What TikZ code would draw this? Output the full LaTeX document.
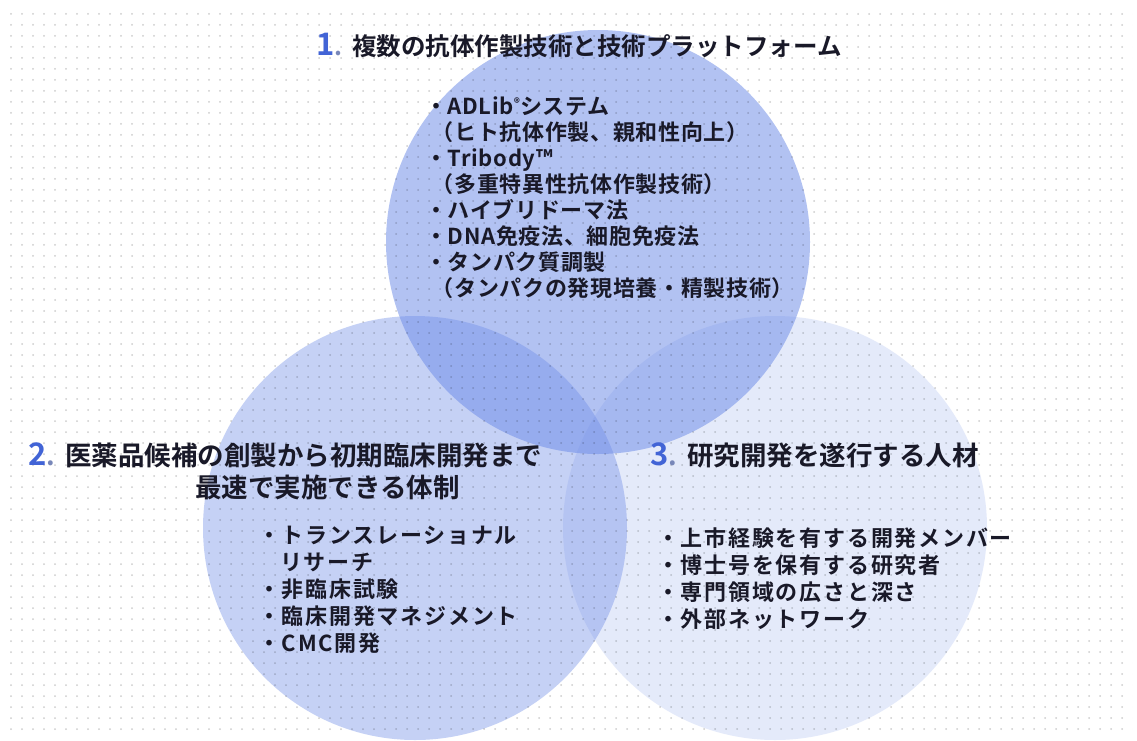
\documentclass[tikz,border=0pt]{standalone}
\usepackage{fontspec}
\setmainfont{Noto Sans CJK JP}[BoldFont={Noto Sans CJK JP Bold}]
\usepackage{tikz}
\usetikzlibrary{patterns.meta}

\definecolor{vennblue}{RGB}{110,140,232}
\definecolor{numblue}{RGB}{66,100,214}
\definecolor{dotblue}{RGB}{120,135,185}
\definecolor{inkblack}{RGB}{25,25,40}

\tikzset{
  heading/.style={anchor=west, inner sep=0pt, text=inkblack,
    font=\fontsize{26.5}{30}\selectfont\bfseries},
  itemlist/.style={anchor=north west, align=left, inner sep=0pt, text=inkblack,
    font=\fontsize{22}{27}\selectfont\bfseries\addfontfeature{LetterSpace=8}},
}
\newcommand{\vennnum}[1]{{\color{numblue}\fontsize{31}{32}\selectfont #1}{\color{dotblue}.}\hspace{10pt}}

\begin{document}
\begin{tikzpicture}[x=1pt,y=-1pt]
\useasboundingbox[fill=white] (0,0) rectangle (1137,740);
\coordinate (c1) at (598,242);
\coordinate (c2) at (415,528);
\coordinate (c3) at (775,528);
 \fill[color=vennblue, opacity=0.4]  (c2) circle (212);
 \fill[color=vennblue, opacity=0.18] (c3) circle (212);
 \fill[color=vennblue, opacity=0.53] (c1) circle (212);
 \fill[pattern={Dots[distance=11pt, radius=1pt]}, pattern color=black, opacity=0.2] (8,10) rectangle (1132,733);

 \node[heading, font=\fontsize{24.5}{30}\selectfont\bfseries] (t1) at (316,45) {\vennnum{1}複数の抗体作製技術と技術プラットフォーム};
 \node[heading] (t2) at (28,455) {\vennnum{2}医薬品候補の創製から初期臨床開発まで};
 \node[heading] (t2b) at (195,487) {最速で実施できる体制};
 \node[heading] (t3) at (650,455) {\vennnum{3}研究開発を遂行する人材};

 \node[itemlist, font=\fontsize{22}{26.1}\selectfont\bfseries\addfontfeature{LetterSpace=3}] (l1) at (425,96) {・ADLib{\fontsize{12}{12}\selectfont\raisebox{7pt}{®}}システム\\
\hspace*{0.3em}（ヒト抗体作製、親和性向上）\\
・Tribody™\\
\hspace*{0.3em}（多重特異性抗体作製技術）\\
・ハイブリドーマ法\\
・DNA免疫法、細胞免疫法\\
・タンパク質調製\\
\hspace*{0.3em}（タンパクの発現培養・精製技術）};
 \node[itemlist] (l2) at (258,526) {・トランスレーショナル\\
\hspace*{1em}リサーチ\\
・非臨床試験\\
・臨床開発マネジメント\\
・CMC開発};
 \node[itemlist] (l3) at (657,527) {・上市経験を有する開発メンバー\\
・博士号を保有する研究者\\
・専門領域の広さと深さ\\
・外部ネットワーク};
\end{tikzpicture}
\end{document}
